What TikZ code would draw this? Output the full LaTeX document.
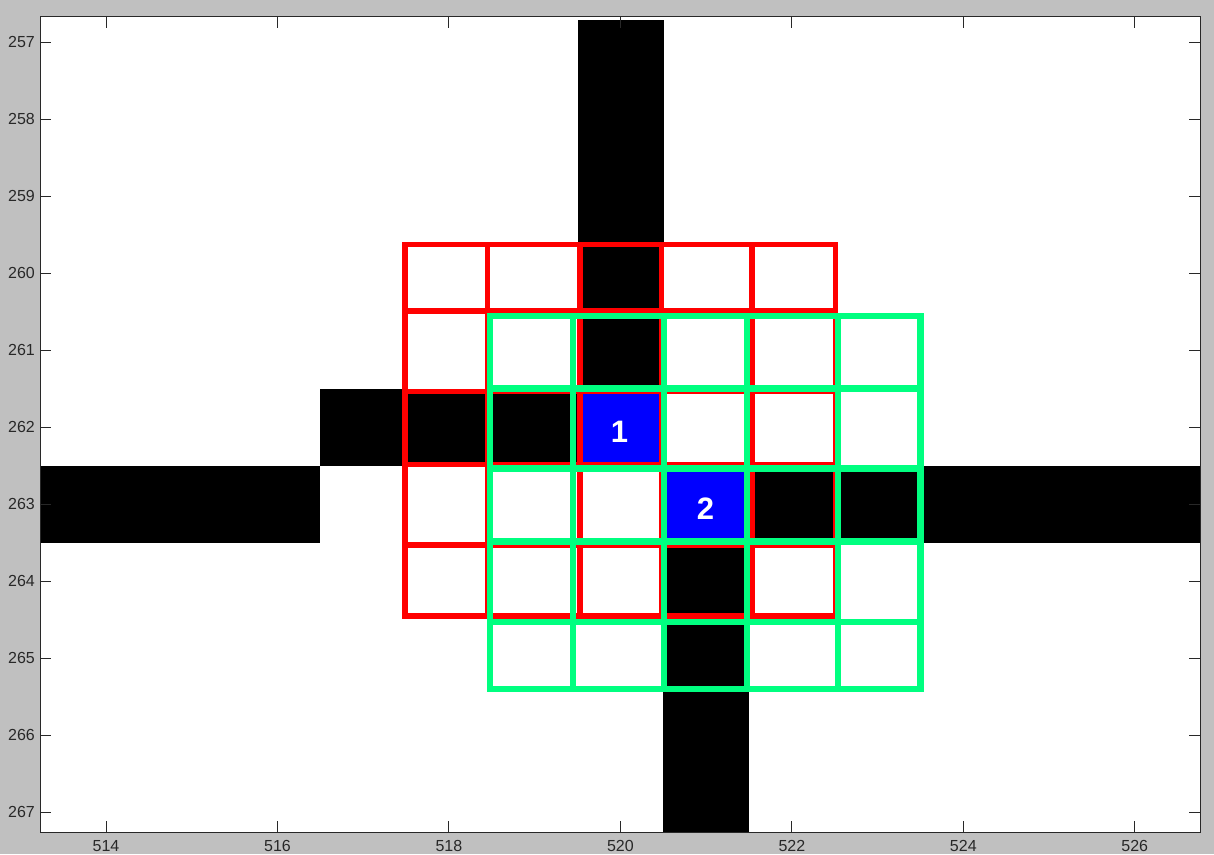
\documentclass[tikz,border=0pt]{standalone}
\usepackage{fontspec}
\setmainfont{Liberation Sans}
\definecolor{figgray}{RGB}{192,192,192}
\definecolor{sgreen}{RGB}{0,255,128}
\definecolor{axisc}{RGB}{40,40,40}
\begin{document}
\begin{tikzpicture}[x=1pt,y=-1pt,
  pixfill/.style={fill=black},
  bluefill/.style={fill=blue},
  redline/.style={draw=red,line width=5.5pt,line cap=rect},
  greenline/.style={draw=sgreen,line width=6.5pt,line cap=rect},
  axisline/.style={draw=axisc,line width=1pt},
  ticklab/.style={font=\fontsize{16}{16}\selectfont,text=axisc,inner sep=0pt},
  celllab/.style={font=\fontsize{31}{31}\selectfont\bfseries,text=white,inner sep=0pt}]
\useasboundingbox (0,0) rectangle (1214,854);
% figure background
\fill[figgray] (0,0) rectangle (1214,854);
\fill[white] (40,16.5) rectangle (1200,832);
% image pixels
\fill[black] (578,20) rectangle (664,389.3);      % column 520, rows 257-261
\fill[black] (320.3,389.3) rectangle (578,466.3); % row 262, 517-519
\fill[black] (40,466.3) rectangle (320.3,543.3);  % row 263, 513-516
\fill[black] (748.8,466.3) rectangle (1200,543.3);% row 263, 522-526
\fill[black] (663.1,543.3) rectangle (748.8,832); % column 521, rows 264-267
\fill[blue] (577.4,389.3) rectangle (663.1,466.3);% pixel 1
\fill[blue] (663.1,466.3) rectangle (748.8,543.3);% pixel 2
% red 5x5 window
\foreach \x in {405,487.5,580,661.5,752,835.5}
  \draw[redline] (\x,244.5) -- (\x,616);
\foreach \y in {244.5,310.8,391.5,464.5,545,616}
  \draw[redline] (405,\y) -- (835.5,\y);
% green 5x5 window
\foreach \x in {490,573,664,747,838,920.5}
  \draw[greenline] (\x,316) -- (\x,689);
\foreach \y in {316,388.5,468.5,541.3,622,689}
  \draw[greenline] (490,\y) -- (920.5,\y);
% labels of the two pixels
\node[celllab] (p1) at (619.5,432) {1};
\node[celllab] (p2) at (705.5,509) {2};
% axes frame
\draw[axisline] (40,16.5) rectangle (1200,832);
\foreach \v in {514,516,...,526}{
  \pgfmathsetmacro{\xx}{106+(\v-514)*85.73}
  \draw[axisline] (\xx,16.5) -- (\xx,27.5);
  \draw[axisline] (\xx,832) -- (\xx,821);
  \node[ticklab] (xl\v) at (\xx,846) {\v};
}
\foreach \v in {257,...,267}{
  \pgfmathsetmacro{\yy}{42.3+(\v-257)*77}
  \draw[axisline] (40,\yy) -- (51,\yy);
  \draw[axisline] (1200,\yy) -- (1189,\yy);
  \node[ticklab,anchor=east] (yl\v) at (35,\yy) {\v};
}
\end{tikzpicture}
\end{document}
